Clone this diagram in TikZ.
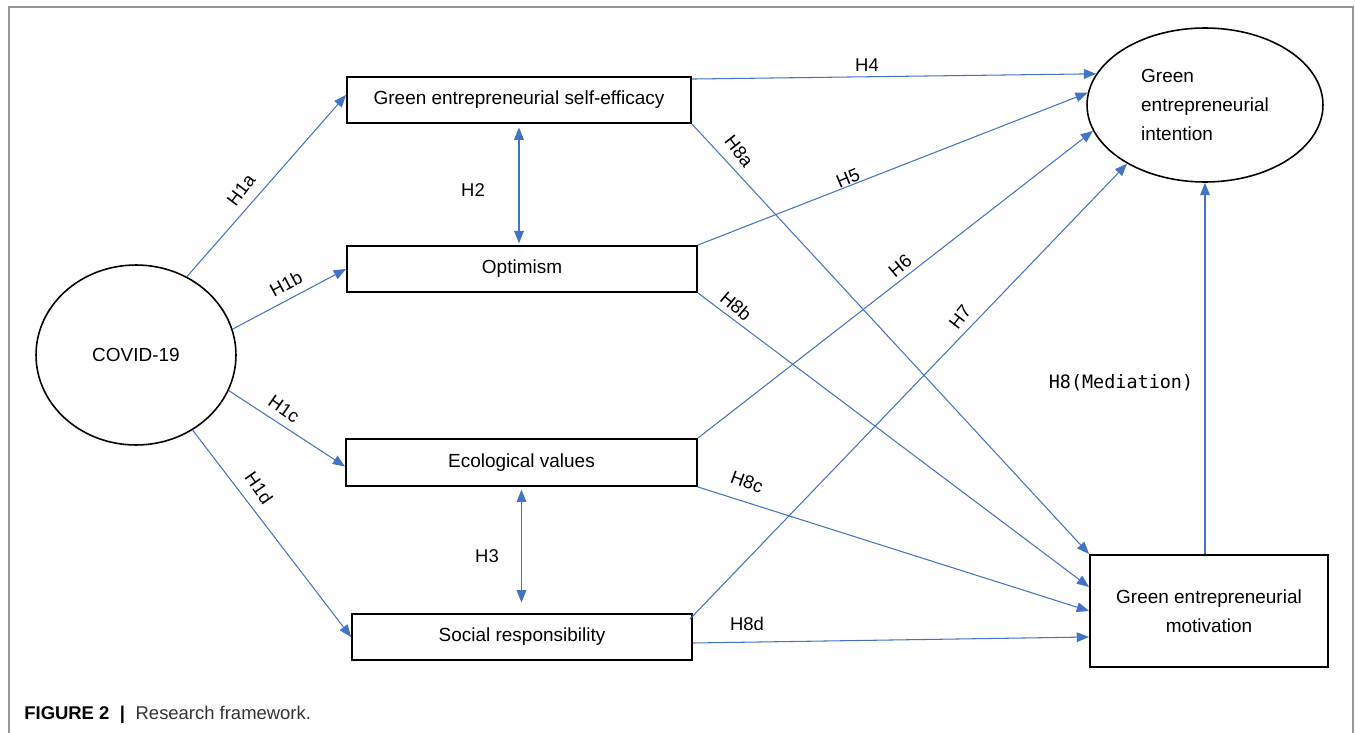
\documentclass[tikz,border=0pt]{standalone}
\usepackage{fontspec}
\setmainfont{Liberation Sans}
\newfontfamily\medfont{DejaVu Sans Mono}
\usetikzlibrary{shapes.geometric}
\usetikzlibrary{arrows.meta}
\usetikzlibrary{calc}
\definecolor{pathblue}{RGB}{68,114,196}
\definecolor{framegray}{RGB}{150,150,150}

\begin{document}
\begin{tikzpicture}[x=0.02cm, y=-0.02cm, align=center, font=\fontsize{10.8}{16.4}\selectfont,
	varnode/.style={rectangle,draw=black,line width=1.1pt,minimum height=0.92cm,inner sep=0pt},
	latnode/.style={ellipse,draw=black,line width=0.9pt,inner sep=0pt},
	hyp/.style={-{Triangle[length=7pt,width=5.5pt]},draw=pathblue,line width=0.6pt},
	hypboth/.style={hyp,{Triangle[length=7pt,width=5.5pt]}-{Triangle[length=7pt,width=5.5pt]}},
	hyplab/.style={inner sep=0pt,font=\fontsize{10.5}{12}\selectfont}]
	\useasboundingbox (0,0) rectangle (1355,733);
	\draw[framegray,line width=0.6pt] (9,733) -- (9,7) -- (1353,7) -- (1353,733);
	\node[latnode,minimum width=4cm,minimum height=3.6cm](covid) at (136,355){COVID-19};
	\node[varnode,minimum width=6.88cm](gese) at (519,100){Green entrepreneurial self-efficacy};
	\node[varnode,minimum width=7cm](opt) at (522,269){Optimism};
	\node[varnode,minimum width=7.02cm,minimum height=0.94cm](eco) at (521.5,462.5){Ecological values};
	\node[varnode,minimum width=6.8cm](soc) at (522,637){Social responsibility};
	\node[latnode,minimum width=4.72cm,minimum height=3.08cm,align=left](gei) at (1205,105){Green\\entrepreneurial\hspace*{0.2cm}\\intention};
	\node[varnode,minimum width=4.76cm,minimum height=2.24cm](gem) at (1209,611){Green entrepreneurial\\motivation};
	% COVID-19 to the four antecedents
	\draw[hyp] (covid.57) -- ($(gese.west)+(0,-5)$);
	\draw[hyp] (covid.15) -- (opt.west);
	\draw[hyp] (covid.339) -- ($(eco.west)+(0,4)$);
	\draw[hyp] (covid.307) -- (soc.west);
	\draw[hypboth,shorten <=2pt,shorten >=1pt] (gese.south) -- (gese.south |- opt.north);
	\draw[hypboth,shorten <=1.5pt,shorten >=6pt] (eco.south) -- (eco.south |- soc.north);
	\draw[hyp] ($(gese.north east)+(0,3)$) -- (gei.164.7);
	\draw[hyp] (opt.north east) -- (gei.174.5);
	\draw[hyp] (eco.north east) -- (gei.193.3);
	\draw[hyp] ($(soc.north east)+(-3,6)$) -- (gei.217.7);
	\draw[hyp] (gese.south east) -- (gem.north west);
	\draw[hyp] (opt.south east) -- ($(gem.west)+(0,-24)$);
	\draw[hyp] (eco.south east) -- (gem.west);
	\draw[hyp] ($(soc.east)+(0,6)$) -- ($(gem.west)+(0,26)$);
	\draw[hyp] (gem.north -| gei.south) -- (gei.south);
	\node[hyplab,rotate=53](l1a) at (241,190){H1a};
	\node[hyplab,rotate=28](l1b) at (286,284){H1b};
	\node[hyplab,rotate=-35](l1c) at (284,409){H1c};
	\node[hyplab,rotate=-55](l1d) at (259,488){H1d};
	\node[hyplab](l2) at (473,190){H2};
	\node[hyplab](l3) at (487,556){H3};
	\node[hyplab](l4) at (867,65){H4};
	\node[hyplab,rotate=23](l5) at (848,178){H5};
	\node[hyplab,rotate=40](l6) at (900,266){H6};
	\node[hyplab,rotate=52](l7) at (960,317){H7};
	\node[hyplab,rotate=-52](l8a) at (739,151){H8a};
	\node[hyplab,rotate=-40](l8b) at (736,306){H8b};
	\node[hyplab,rotate=-20](l8c) at (747,482){H8c};
	\node[hyplab](l8d) at (747,624){H8d};
	\node[hyplab,font=\medfont\fontsize{10.5}{12}\selectfont](l8m) at (1121,383){H8(Mediation)};
	\node[anchor=west,inner sep=0pt,font=\fontsize{10.5}{12}\selectfont](cap) at (24,715){\textbf{FIGURE 2}\hspace{6pt}\textbf{|}\hspace{6pt}\textcolor{black!80}{Research framework.}};
\end{tikzpicture}
\end{document}
